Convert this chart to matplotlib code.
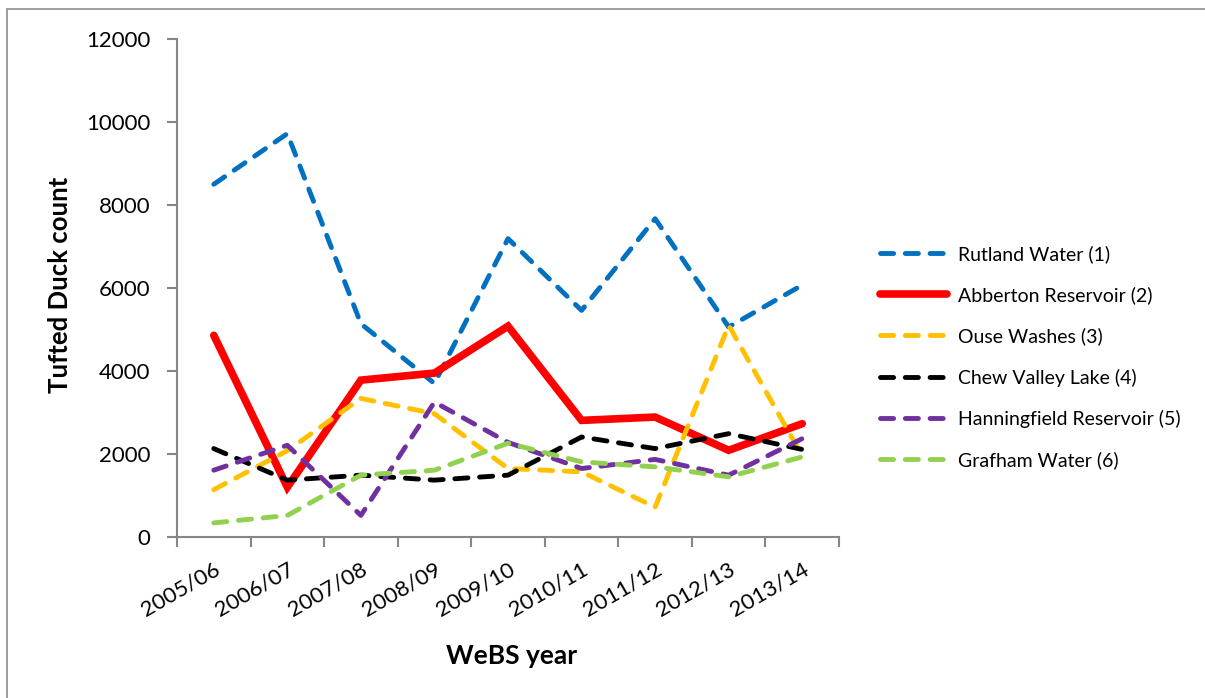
import matplotlib
matplotlib.use("Agg")
import matplotlib.pyplot as plt
from matplotlib.patches import Rectangle

plt.rcParams['font.family'] = ['Lato', 'DejaVu Sans']

# WeBS winter counts of Tufted Duck at the top six sites
years = ['2005/06', '2006/07', '2007/08', '2008/09', '2009/10',
         '2010/11', '2011/12', '2012/13', '2013/14']
rutland = [8500, 9720, 5140, 3700, 7190, 5460, 7670, 5060, 6070]
abberton = [4860, 1200, 3780, 3950, 5080, 2810, 2890, 2090, 2730]
ouse = [1140, 2080, 3340, 2970, 1650, 1570, 720, 5100, 1950]
chew = [2130, 1370, 1490, 1370, 1490, 2410, 2130, 2490, 2110]
hanningfield = [1610, 2210, 520, 3250, 2280, 1650, 1870, 1490, 2370]
grafham = [340, 520, 1490, 1610, 2260, 1810, 1690, 1450, 1930]

site_names = ['Rutland Water (1)', 'Abberton Reservoir (2)', 'Ouse Washes (3)',
              'Chew Valley Lake (4)', 'Hanningfield Reservoir (5)', 'Grafham Water (6)']
site_colors = ['#0070C0', '#FF0000', '#FFC000', '#000000', '#7030A0', '#92D050']

fig = plt.figure(figsize=(12.05, 6.98), dpi=100)
ax = fig.add_axes([177/1205, 1 - 537/698, (839 - 177)/1205, (537 - 39)/698])

# thin grey frame around the whole chart area
fig.patches.append(Rectangle((7/1205, -0.1), 1.2, 1 - 9/698 + 0.1, transform=fig.transFigure,
                             fill=False, edgecolor='#8c8c8c', linewidth=1.2))

x = list(range(len(years)))
series = [rutland, abberton, ouse, chew, hanningfield, grafham]
for vals, name, col in zip(series, site_names, site_colors):
    if name.startswith('Abberton'):
        ax.plot(x, vals, color=col, linewidth=5.5, solid_capstyle='round',
                solid_joinstyle='miter', label=name)
    else:
        ax.plot(x, vals, color=col, linewidth=3.5, linestyle=(0, (2.7, 2.4)),
                dash_capstyle='round', label=name)

ax.set_xlim(-0.5, len(years) - 0.5)
ax.set_ylim(0, 12000)
ax.set_yticks(range(0, 12001, 2000))

ax.set_xticks(x)
ax.set_xticklabels(years, rotation=30, ha='right', va='top', rotation_mode='anchor', fontsize=16)
ax.set_xticks([i - 0.5 for i in range(len(years) + 1)], minor=True)
ax.tick_params(axis='x', which='major', length=0, pad=16)
ax.tick_params(axis='x', which='minor', length=7, width=1.5, color='#868686', direction='out')
ax.tick_params(axis='y', length=7, width=1.5, color='#868686', direction='out', pad=12, labelsize=16)

for side in ['top', 'right']:
    ax.spines[side].set_visible(False)
for side in ['left', 'bottom']:
    ax.spines[side].set_color('#868686')
    ax.spines[side].set_linewidth(1.5)

fig.text(60/1205, 1 - 285/698, 'Tufted Duck count', rotation=90, ha='center', va='center',
         fontsize=18.5, fontweight='bold')
fig.text(512/1205, 1 - 656/698, 'WeBS year', ha='center', va='center',
         fontsize=19, fontweight='bold')

ax.legend(loc='center left', bbox_to_anchor=(880/1205, 1 - 357/698),
          bbox_transform=fig.transFigure, frameon=False, fontsize=14,
          handlelength=3.45, handletextpad=0.57, labelspacing=1.2, borderpad=0,
          borderaxespad=0)

fig.savefig('out.png', dpi=100)
